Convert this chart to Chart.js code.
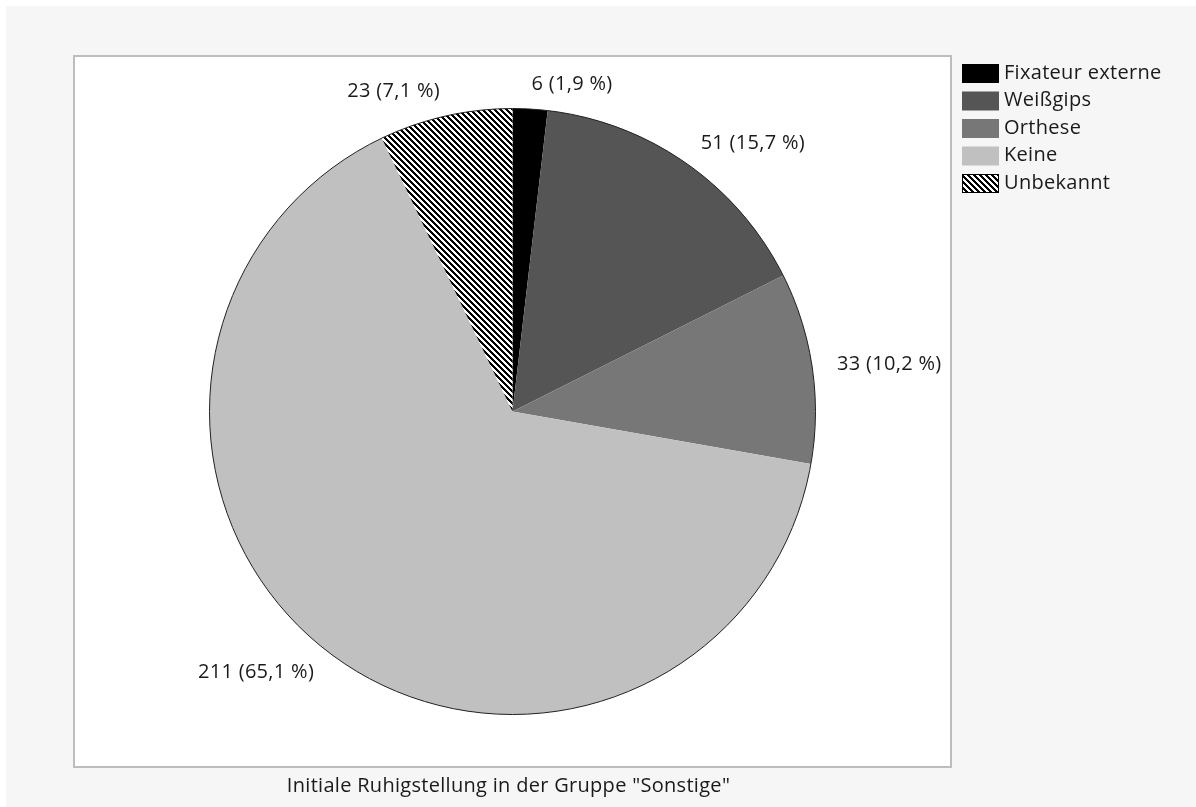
<!DOCTYPE html>
<html>
<head>
<meta charset="utf-8">
<script src="https://cdn.jsdelivr.net/npm/chart.js@4/dist/chart.umd.min.js"></script>
<style>
    html, body { margin: 0; padding: 0; background: #ffffff; }
    canvas { display: block; }
</style>
</head>
<body>
<canvas id="chart_ruhig" width="1196" height="807"></canvas>
<script>
const categories = ['Fixateur externe', 'Weißgips', 'Orthese', 'Keine', 'Unbekannt'];
const counts = [6, 51, 33, 211, 23];
const chartTitle = 'Initiale Ruhigstellung in der Gruppe "Sonstige"';

const fontFamily = '"Open Sans", "Noto Sans", sans-serif';
const fontSize = 20;

// schraffur fuer "Unbekannt"
function makeHatch() {
    const size = 6;
    const tile = document.createElement('canvas');
    tile.width = size;
    tile.height = size;
    const tctx = tile.getContext('2d');
    const img = tctx.createImageData(size, size);
    for (let y = 0; y < size; y++) {
        for (let x = 0; x < size; x++) {
            const i = (y * size + x) * 4;
            const dark = (((x - y) % size) + size) % size < 3;
            const v = dark ? 0 : 255;
            img.data[i] = v; img.data[i + 1] = v; img.data[i + 2] = v; img.data[i + 3] = 255;
        }
    }
    tctx.putImageData(img, 0, 0);
    return document.getElementById('chart_ruhig').getContext('2d').createPattern(tile, 'repeat');
}

const hatch = makeHatch();
const colors = ['#000000', '#555555', '#777777', '#c0c0c0', hatch];

function formatLabel(v, total) {
    const pct = (v / total * 100).toFixed(1).replace('.', ',');
    return v + ' (' + pct + ' %)';
}

function setFont(ctx) {
    ctx.font = fontSize + 'px ' + fontFamily;
    if ('letterSpacing' in ctx) {
        ctx.letterSpacing = '0.3px';
    }
}

const frameAndTexts = {
    id: 'frameAndTexts',
    beforeDraw(chart) {
        const ctx = chart.ctx;
        const a = chart.chartArea;
        ctx.save();
        ctx.fillStyle = '#ffffff';
        ctx.fillRect(0, 0, chart.width, chart.height);
        ctx.fillStyle = '#f6f6f6';
        ctx.fillRect(6, 6, chart.width - 6, chart.height - 6);
        ctx.fillStyle = '#ffffff';
        ctx.fillRect(a.left - 1, a.top - 1, a.right - a.left + 2, a.bottom - a.top + 2);
        ctx.strokeStyle = '#bdbdbd';
        ctx.lineWidth = 2;
        ctx.strokeRect(a.left - 1, a.top - 1, a.right - a.left + 2, a.bottom - a.top + 2);
        ctx.restore();
    },
    afterDatasetsDraw(chart) {
        const ctx = chart.ctx;
        const meta = chart.getDatasetMeta(0);
        const data = chart.data.datasets[0].data;
        const total = data.reduce((s, v) => s + v, 0);
        ctx.save();
        // aeusserer rand des kreises
        const first = meta.data[0];
        ctx.beginPath();
        ctx.arc(first.x, first.y, first.outerRadius, 0, Math.PI * 2);
        ctx.strokeStyle = '#222222';
        ctx.lineWidth = 1;
        ctx.stroke();

        setFont(ctx);
        ctx.fillStyle = '#1a1a1a';
        ctx.textBaseline = 'middle';
        meta.data.forEach(function (arc, i) {
            const mid = (arc.startAngle + arc.endAngle) / 2;
            const r = arc.outerRadius + 25;
            const x = arc.x + Math.cos(mid) * r;
            const y = arc.y + Math.sin(mid) * r;
            ctx.textAlign = Math.cos(mid) >= 0 ? 'left' : 'right';
            ctx.fillText(formatLabel(data[i], total), x, y);
        });
        ctx.restore();
    },
    afterDraw(chart) {
        const ctx = chart.ctx;
        const a = chart.chartArea;
        const ds = chart.data.datasets[0];
        ctx.save();
        setFont(ctx);
        ctx.textBaseline = 'middle';
        ctx.textAlign = 'left';
        chart.data.labels.forEach(function (label, i) {
            const x = a.right + 12;
            const yc = a.top + 16 + i * 27.5;
            ctx.fillStyle = ds.backgroundColor[i];
            ctx.fillRect(x, yc - 9, 37, 19);
            if (i === 4) {
                ctx.strokeStyle = '#000000';
                ctx.lineWidth = 1;
                ctx.strokeRect(x + 0.5, yc - 8.5, 36, 18);
            }
            ctx.fillStyle = '#1a1a1a';
            ctx.fillText(label, x + 42, yc);
        });
        // titel unten
        ctx.textAlign = 'center';
        ctx.fillText(chartTitle, (a.left + a.right) / 2 - 4, a.bottom + 20);
        ctx.restore();
    }
};

new Chart(document.getElementById('chart_ruhig'), {
    type: 'pie',
    data: {
        labels: categories,
        datasets: [{
            data: counts,
            backgroundColor: colors,
            borderWidth: 0,
            radius: 303
        }]
    },
    options: {
        responsive: false,
        animation: false,
        devicePixelRatio: 1,
        layout: {
            padding: { left: 75, top: 57, right: 246, bottom: 41 }
        },
        plugins: {
            legend: { display: false },
            tooltip: { enabled: false },
            title: { display: false }
        }
    },
    plugins: [frameAndTexts]
});
</script>
</body>
</html>
